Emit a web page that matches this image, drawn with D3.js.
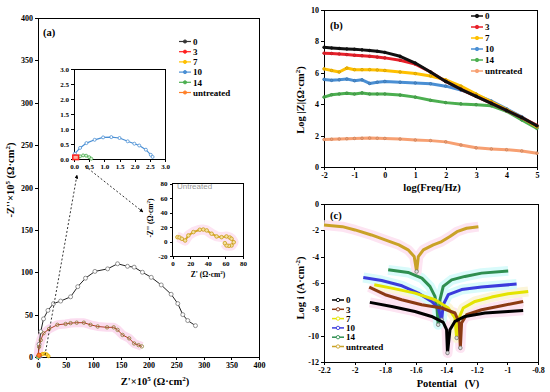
<!DOCTYPE html>
<html>
<head>
<meta charset="utf-8">
<style>
    body { margin: 0; background: #fff; }
    svg { font-family: "Liberation Serif", "Times New Roman", serif; font-weight: bold; }
    .frame { fill: none; stroke: #000; stroke-width: 1; shape-rendering: crispEdges; }
    .axis path { display: none; }
    .axis line { stroke: #000; shape-rendering: crispEdges; }
    .axis text { font-size: 8px; font-weight: bold; font-family: "Liberation Serif", serif; fill: #000; }
    .small text { font-size: 7px; }
    .title { font-size: 10.5px; }
    .leg { font-size: 9px; }
</style>
</head>
<body>
<script src="https://d3js.org/d3.v7.min.js"></script>
<script>
// ---- data ----
var seriesNames = ["0", "3", "7", "10", "14", "untreated"];

// (a) Nyquist, Z' and -Z'' in 1e5 ohm cm2
var nyq0 = [[0,0],[2,15],[5,30],[10,45],[18,55],[28,63],[41,66],[59,71],[72,83],[86,93],[103,101],[126,104],[144,110],[162,107],[174,106],[189,100],[205,94],[223,85],[241,74],[253,63],[262,50],[271,43],[285,37]];
var nyq3 = [[0,0],[2,12],[5,20],[10,28],[20,33],[35,38],[50,39],[59,40],[70,40.5],[83,40.5],[95,38],[108,36],[125,35],[137,35],[144,32],[153,26],[165,22],[174,16],[182,14],[188,12.5]];
var nyq7 = [[1,0.5],[4,2],[8,3.5],[12,4],[16,3],[19,1]];
// inset 1 (1e5 ohm cm2)
var ins10 = [[0.03,0.18],[0.2,0.37],[0.41,0.53],[0.68,0.64],[0.96,0.72],[1.23,0.73],[1.5,0.7],[1.77,0.59],[1.99,0.51],[2.15,0.45],[2.37,0.31],[2.53,0.14],[2.59,0.07]];
var ins14 = [[0.12,0.03],[0.2,0.09],[0.3,0.12],[0.4,0.11],[0.5,0.06],[0.57,0.01]];
// inset 2 untreated (ohm cm2)
var insU = [[5.6,6],[8,5.5],[10.6,3.7],[14.3,1.4],[18,8.3],[23.7,13],[31,16.2],[35,16.5],[38.8,15.3],[44.4,10.7],[50,7],[55.7,6],[61.3,7],[65,5.5],[67,3.7],[69.5,-1],[67,-5.5],[64,-6],[61.3,-5.5],[59.4,-2.3]];

// (b) Bode
var bLogF = [-2,-1.75,-1.5,-1.25,-1,-0.75,-0.5,-0.25,0,0.5,1,1.5,2,2.5,3,3.5,4,4.5,5];
var b0  = [7.62,7.58,7.55,7.52,7.5,7.46,7.42,7.37,7.3,7.05,6.62,6.05,5.45,4.95,4.5,4.05,3.6,3.15,2.62];
var b3  = [7.25,7.23,7.2,7.16,7.12,7.09,7.05,7.0,6.95,6.8,6.55,6.05,5.45,4.95,4.5,4.05,3.6,3.15,2.65];
var b7  = [6.25,6.15,6.05,6.3,6.2,6.2,6.2,6.18,6.15,6.05,5.95,5.8,5.55,5.15,4.65,4.15,3.65,3.15,2.55];
var b10 = [5.58,5.52,5.55,5.6,5.5,5.55,5.32,5.4,5.45,5.4,5.35,5.3,5.15,4.9,4.6,4.2,3.7,3.2,2.55];
var b14 = [4.45,4.6,4.65,4.7,4.65,4.72,4.65,4.65,4.65,4.58,4.45,4.25,4.1,4.02,3.97,3.9,3.55,3.0,2.45];
var bU  = [1.75,1.77,1.78,1.8,1.82,1.83,1.84,1.83,1.82,1.78,1.72,1.68,1.6,1.4,1.22,1.15,1.1,1.02,0.88];

// (c) polarization, [potential V, log i]
var pol0 = [[-1.9,-7.47],[-1.757,-7.78],[-1.605,-8.16],[-1.496,-8.54],[-1.42,-8.99],[-1.398,-9.55],[-1.392,-11.31],[-1.376,-9.55],[-1.343,-8.91],[-1.278,-8.54],[-1.147,-8.28],[-0.995,-8.16],[-0.897,-8.08]];
var pol3 = [[-1.904,-6.31],[-1.8,-6.89],[-1.692,-7.27],[-1.561,-7.65],[-1.43,-7.9],[-1.343,-8.28],[-1.315,-9.04],[-1.308,-10.93],[-1.3,-9.04],[-1.267,-8.41],[-1.169,-8.03],[-1.038,-7.73],[-0.897,-7.4]];
var pol7 = [[-1.871,-6.14],[-1.757,-6.39],[-1.605,-6.77],[-1.474,-7.27],[-1.387,-7.9],[-1.343,-8.66],[-1.332,-10.17],[-1.322,-8.79],[-1.289,-7.9],[-1.212,-7.4],[-1.103,-7.07],[-0.995,-6.82],[-0.864,-6.64]];
var pol10 = [[-1.943,-5.58],[-1.823,-5.81],[-1.69,-6.21],[-1.583,-6.77],[-1.496,-7.4],[-1.453,-7.9],[-1.43,-8.79],[-1.42,-7.65],[-1.387,-6.89],[-1.3,-6.5],[-1.169,-6.31],[-0.94,-6.08]];
var pol14 = [[-1.78,-5.0],[-1.65,-5.2],[-1.56,-5.63],[-1.507,-6.26],[-1.474,-7.02],[-1.46,-8.03],[-1.453,-9.17],[-1.441,-7.27],[-1.42,-6.26],[-1.365,-5.76],[-1.278,-5.5],[-1.169,-5.25],[-0.995,-5.08]];
var polU = [[-2.2,-1.6],[-2.08,-1.72],[-1.997,-1.97],[-1.89,-2.35],[-1.8,-2.73],[-1.71,-3.1],[-1.65,-3.48],[-1.61,-3.99],[-1.594,-5.13],[-1.583,-4.0],[-1.55,-3.48],[-1.485,-3.1],[-1.43,-2.85],[-1.376,-2.47],[-1.33,-2.1],[-1.267,-1.84],[-1.19,-1.72]];

var colA = ["#333333", "#ff2020", "#ffc000", "#4a8fd4", "#4caf50", "#ff7f27"];
var colB = ["#111111", "#e8202a", "#ffc000", "#4a8fd4", "#4caf50", "#f7a072"];
var colC = ["#000000", "#8b3a13", "#e4e400", "#3b3bdc", "#2f8f50", "#c9a227"];

// ---- setup ----
var svg = d3.select("body").append("svg").attr("width", 550).attr("height", 392);
svg.append("rect").attr("width", 550).attr("height", 392).attr("fill", "#fff");

function fmt(d) { return String(+(+d).toFixed(2)); }

function frameAxes(x, y, xt, yt, xf, yf, cls) {
    var g = svg.append("g").attr("class", cls || "");
    g.append("g").attr("class", "axis")
        .attr("transform", "translate(0," + y.range()[0] + ")")
        .call(d3.axisBottom(x).tickValues(xt).tickSize(3).tickPadding(2).tickFormat(xf || fmt));
    g.append("g").attr("class", "axis")
        .attr("transform", "translate(" + x.range()[0] + ",0)")
        .call(d3.axisLeft(y).tickValues(yt).tickSize(3).tickPadding(2).tickFormat(yf || fmt));
    g.append("rect").attr("class", "frame")
        .attr("x", x.range()[0]).attr("y", y.range()[1])
        .attr("width", x.range()[1] - x.range()[0])
        .attr("height", y.range()[0] - y.range()[1]);
    return g;
}

function halo(pts, x, y, c, w) {
    svg.append("path").datum(pts)
        .attr("d", d3.line().x(function (d) { return x(d[0]); }).y(function (d) { return y(d[1]); }))
        .attr("fill", "none").attr("stroke", c).attr("stroke-width", w)
        .attr("stroke-linejoin", "round");
}

function series(pts, x, y, c, lw, r, mfill, mstroke) {
    svg.append("path").datum(pts)
        .attr("d", d3.line().x(function (d) { return x(d[0]); }).y(function (d) { return y(d[1]); }))
        .attr("fill", "none").attr("stroke", c).attr("stroke-width", lw)
        .attr("stroke-linejoin", "round");
    if (r > 0) {
        svg.append("g").selectAll("circle").data(pts).enter().append("circle")
            .attr("cx", function (d) { return x(d[0]); })
            .attr("cy", function (d) { return y(d[1]); })
            .attr("r", r).attr("fill", mfill).attr("stroke", mstroke).attr("stroke-width", 0.8);
    }
}

function legend(x0, y0, dy, cols, style) {
    var g = svg.append("g").selectAll("g").data(seriesNames).enter().append("g")
        .attr("transform", function (d, i) { return "translate(" + x0 + "," + (y0 + i * dy) + ")"; });
    g.append("line").attr("x1", 0).attr("x2", 12).attr("y1", 0).attr("y2", 0)
        .attr("stroke", function (d, i) { return cols[i]; }).attr("stroke-width", style.lw);
    g.append("circle").attr("cx", 6).attr("cy", 0).attr("r", style.r)
        .attr("fill", function (d, i) { return style.open ? "#fff" : cols[i]; })
        .attr("stroke", function (d, i) { return cols[i]; }).attr("stroke-width", 0.9);
    g.append("text").attr("class", "leg").attr("x", 14).attr("y", 3.2).text(function (d) { return d; });
}

// ================= (a) =================
var xa = d3.scaleLinear().domain([0, 400]).range([38, 259]);
var ya = d3.scaleLinear().domain([0, 400]).range([357, 18]);
frameAxes(xa, ya, d3.range(0, 401, 50), d3.range(0, 401, 50));

halo(nyq3, xa, ya, "#fbdcef", 9);
series(nyq0, xa, ya, "#222", 1, 2, "#fff", "#777");
series(nyq3, xa, ya, "#b0402a", 1, 1.7, "none", "#8a7a30");
series(nyq7, xa, ya, "#ffc000", 3, 1.6, "#ffd84d", "#e0a800");
series(ins10, xa, ya, colA[3], 1, 1.5, "#fff", colA[3]);
series(ins14, xa, ya, colA[4], 1, 1.5, "#fff", colA[4]);
svg.append("circle").attr("cx", xa(2)).attr("cy", ya(2)).attr("r", 2.2).attr("fill", colA[5]).attr("stroke", "#e05010");

svg.append("text").attr("class", "title").attr("x", 43).attr("y", 36).attr("font-size", 11).text("(a)");
svg.append("text").attr("class", "title")
    .attr("transform", "translate(14,180) rotate(-90)").attr("text-anchor", "middle")
    .html("-Z''×10<tspan dy='-4' font-size='7'>5</tspan><tspan dy='4'> (Ω·cm</tspan><tspan dy='-4' font-size='7'>2</tspan><tspan dy='4'>)</tspan>");
svg.append("text").attr("class", "title")
    .attr("x", 155).attr("y", 385).attr("text-anchor", "middle")
    .html("Z'×10<tspan dy='-4' font-size='7'>5</tspan><tspan dy='4'> (Ω·cm</tspan><tspan dy='-4' font-size='7'>2</tspan><tspan dy='4'>)</tspan>");

legend(179, 41.5, 10.2, colA, { lw: 1.2, r: 1.6, open: false });

// inset 1
var xi = d3.scaleLinear().domain([0, 3]).range([74, 165]);
var yi = d3.scaleLinear().domain([0, 3]).range([159, 69]);
svg.append("rect").attr("x", 74).attr("y", 69).attr("width", 91).attr("height", 90).attr("fill", "#fff");
frameAxes(xi, yi, d3.range(0, 3.01, 0.5), d3.range(0, 3.01, 0.5), d3.format(".1f"), d3.format(".1f"), "small");
series(ins10, xi, yi, colA[3], 1.2, 1.5, "#fff", colA[3]);
series(ins14, xi, yi, colA[4], 1.5, 1.5, "#d9f0d9", colA[4]);
svg.append("rect").attr("x", xi(-0.04)).attr("y", yi(0.13)).attr("width", xi(0.15) - xi(-0.04))
    .attr("height", yi(-0.02) - yi(0.13)).attr("fill", "#ffb0a0").attr("stroke", "#ff2020").attr("stroke-width", 1.5);

// inset 2
var xu = d3.scaleLinear().domain([0, 80]).range([172.5, 243]);
var yu = d3.scaleLinear().domain([-20, 80]).range([256, 183.5]);
svg.append("rect").attr("x", 172.5).attr("y", 183.5).attr("width", 70.5).attr("height", 72.5).attr("fill", "#fff");
frameAxes(xu, yu, d3.range(0, 81, 20), d3.range(-20, 81, 20), null, null, "small");
halo(insU, xu, yu, "#fde4f2", 10);
series(insU, xu, yu, "#d4a828", 2, 1.8, "#f4e2a0", "#c99a1a");
svg.append("text").attr("x", 177).attr("y", 189).attr("font-family", "Liberation Sans, Arial, sans-serif")
    .attr("font-weight", "normal").attr("font-size", 8).attr("fill", "#999").text("Untreated");
svg.append("text").attr("font-size", 7.5)
    .attr("transform", "translate(153,218) rotate(-90)").attr("text-anchor", "middle")
    .html("-Z'' (Ω·cm<tspan dy='-3' font-size='5'>2</tspan><tspan dy='3'>)</tspan>");
svg.append("text").attr("font-size", 7.5).attr("x", 208).attr("y", 277).attr("text-anchor", "middle")
    .html("Z' (Ω·cm<tspan dy='-3' font-size='5'>2</tspan><tspan dy='3'>)</tspan>");

// dashed pointers
var defs = svg.append("defs");
defs.append("marker").attr("id", "arr").attr("viewBox", "0 0 10 10").attr("refX", 9).attr("refY", 5)
    .attr("markerWidth", 5).attr("markerHeight", 5).attr("orient", "auto")
    .append("path").attr("d", "M0,0L10,5L0,10Z").attr("fill", "#000");
svg.append("line").attr("x1", 45).attr("y1", 355).attr("x2", 77).attr("y2", 175)
    .attr("stroke", "#000").attr("stroke-width", 0.8).attr("stroke-dasharray", "2,2").attr("marker-end", "url(#arr)");
svg.append("line").attr("x1", 85).attr("y1", 166).attr("x2", 143).attr("y2", 212)
    .attr("stroke", "#000").attr("stroke-width", 0.8).attr("stroke-dasharray", "2,2").attr("marker-end", "url(#arr)");

// ================= (b) =================
var xb = d3.scaleLinear().domain([-2, 5]).range([324, 537]);
var yb = d3.scaleLinear().domain([0, 10]).range([167, 10]);
frameAxes(xb, yb, d3.range(-2, 5.01, 1), d3.range(0, 10.01, 2));
[bU, b14, b10, b7, b3, b0].forEach(function (vals) {
    var i = [b0, b3, b7, b10, b14, bU].indexOf(vals);
    var pts = bLogF.map(function (f, k) { return [f, vals[k]]; });
    series(pts, xb, yb, colB[i], 3, 1.3, colB[i], d3.color(colB[i]).darker(0.6));
});
legend(471, 16, 11, colB, { lw: 1.5, r: 1.7, open: false });
svg.append("text").attr("class", "title").attr("x", 330).attr("y", 29).attr("font-size", 11).text("(b)");
svg.append("text").attr("class", "title")
    .attr("transform", "translate(304,100) rotate(-90)").attr("text-anchor", "middle")
    .html("Log |Z|(Ω·cm<tspan dy='-4' font-size='7'>2</tspan><tspan dy='4'>)</tspan>");
svg.append("text").attr("class", "title").attr("x", 432).attr("y", 191).attr("text-anchor", "middle").text("log(Freq/Hz)");

// ================= (c) =================
var xc = d3.scaleLinear().domain([-2.2, -0.8]).range([324, 538]);
var yc = d3.scaleLinear().domain([-12, 0]).range([362, 204]);
frameAxes(xc, yc, d3.range(-2.2, -0.79, 0.2), d3.range(-12, 0.01, 2));
var polAll = [pol0, pol3, pol7, pol10, pol14, polU];
var haloC = ["#fde4f2", "#fde4f2", "#fbf5d8", "#d9fbfb", "#d9fbfb", "#fde4f2"];
polAll.forEach(function (p, i) { halo(p, xc, yc, haloC[i], 10); });
[polU, pol14, pol10, pol7, pol3, pol0].forEach(function (p) {
    var i = polAll.indexOf(p);
    series(p, xc, yc, colC[i], 3, 0, null, null);
    var tip = p.reduce(function (a, b) { return b[1] < a[1] ? b : a; });
    svg.append("circle").attr("cx", xc(tip[0])).attr("cy", yc(tip[1])).attr("r", 1.8)
        .attr("fill", "#ddd").attr("stroke", "#777").attr("stroke-width", 0.8);
});
legend(332, 300, 9.3, colC, { lw: 1.5, r: 1.7, open: true });
svg.append("text").attr("class", "title").attr("x", 330).attr("y", 219).attr("font-size", 11).text("(c)");
svg.append("text").attr("class", "title")
    .attr("transform", "translate(304,288) rotate(-90)").attr("text-anchor", "middle")
    .html("Log i (A·cm<tspan dy='-4' font-size='7'>-2</tspan><tspan dy='4'>)</tspan>");
svg.append("text").attr("class", "title").attr("x", 448).attr("y", 387).attr("text-anchor", "middle")
    .attr("xml:space", "preserve").style("white-space", "pre").text("Potential   (V)");
</script>
</body>
</html>
